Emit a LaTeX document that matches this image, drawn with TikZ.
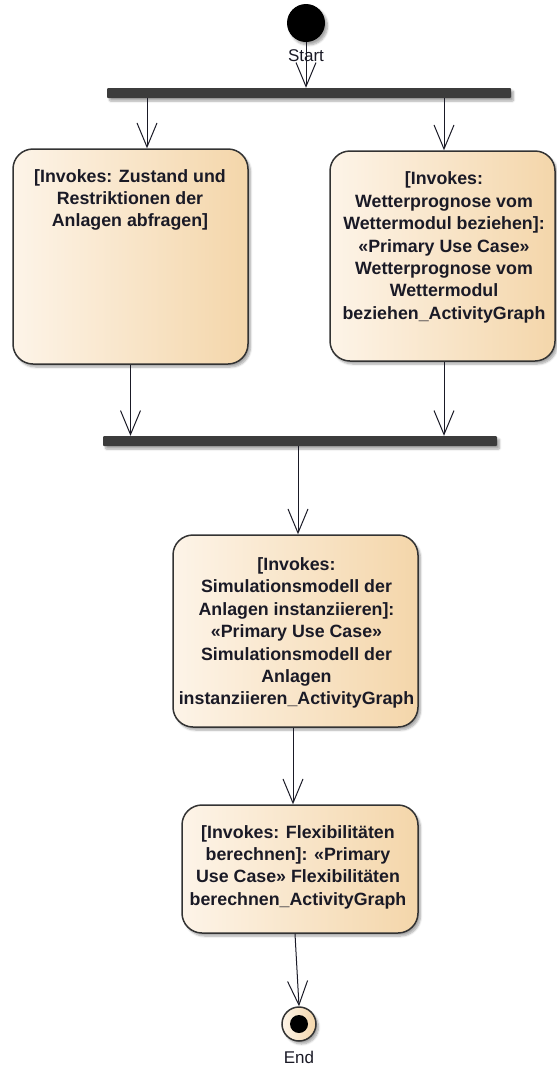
\documentclass[tikz,border=0pt]{standalone}
\usepackage{fontspec}
\setmainfont{Liberation Sans}
\usetikzlibrary{arrows.meta,shadows.blur,calc}
\definecolor{actleft}{HTML}{FDF4E8}
\definecolor{actright}{HTML}{F4D6AA}
\definecolor{edge}{HTML}{333333}
\definecolor{barcol}{HTML}{3C3C3C}
\definecolor{ink}{HTML}{1A1A26}
\tikzset{
  softshadow/.style={blur shadow={shadow xshift=2.5pt,shadow yshift=-3pt,shadow blur steps=6,shadow opacity=35}},
  activity/.style={draw=edge,line width=1.5pt,rounded corners=20pt,left color=actleft,right color=actright,softshadow,inner sep=0pt},
  acttext/.style={align=center,text=ink,inner sep=0pt,font=\bfseries\fontsize{17.8}{22.4}\selectfont},
  forkbar/.style={fill=barcol,draw=none,rounded corners=1pt,softshadow,inner sep=0pt,minimum height=10pt},
  flow/.style={draw=ink,line width=1pt,-{Straight Barb[length=24pt,width=20pt,line width=1pt]}},
  statelabel/.style={text=ink,font=\fontsize{17}{19}\selectfont,inner sep=0pt}
}
\begin{document}
\begin{tikzpicture}[x=1pt,y=-1pt]
\useasboundingbox (0,0) rectangle (557,1066);

% initial node
\node[circle,fill=black,minimum size=38pt,inner sep=0pt,softshadow] (start) at (306,23) {};
\node[statelabel] (startlbl) at (306,56) {Start};

% fork / join bars
\node[forkbar,minimum width=404pt] (bar1) at (309,93) {};
\node[forkbar,minimum width=394pt] (bar2) at (300,441) {};

% actions
\node[activity,minimum width=235pt,minimum height=215pt] (a) at (130.5,256.5) {};
\node[acttext] (atext) at (130,200) {[Invokes: Zustand und\\Restriktionen der\\Anlagen abfragen]};

\node[activity,minimum width=225pt,minimum height=210pt] (b) at (442.5,256) {};
\node[acttext] (btext) at (444,247.5) {[Invokes:\\Wetterprognose vom\\Wettermodul beziehen]:\\«Primary Use Case»\\Wetterprognose vom\\Wettermodul\\beziehen\_ActivityGraph};

\node[activity,minimum width=245pt,minimum height=192pt] (c) at (295.5,631) {};
\node[acttext] (ctext) at (296.5,633) {[Invokes:\\Simulationsmodell der\\Anlagen instanziieren]:\\«Primary Use Case»\\Simulationsmodell der\\Anlagen\\instanziieren\_ActivityGraph};

\node[activity,minimum width=236pt,minimum height=128pt] (d) at (300,869) {};
\node[acttext] (dtext) at (298,867) {[Invokes: Flexibilitäten\\berechnen]: «Primary\\Use Case» Flexibilitäten\\berechnen\_ActivityGraph};

% final node
\node[circle,draw=edge,line width=1.5pt,left color=actleft,right color=actright,minimum size=34pt,inner sep=0pt,softshadow] (end) at (299,1024) {};
\node[circle,fill=black,minimum size=18pt,inner sep=0pt] (enddot) at (end.center) {};
\node[statelabel] (endlbl) at (299,1057) {End};

% control flows
\draw[flow] (start.south) -- (start.south |- bar1.north);
\draw[flow] ([xshift=16.5pt]a.north |- bar1.south) -- ([xshift=16.5pt]a.north);
\draw[flow] ([xshift=1.5pt]b.north |- bar1.south) -- ([xshift=1.5pt]b.north);
\draw[flow] (a.south) -- (a.south |- bar2.north);
\draw[flow] ([xshift=1.5pt]b.south) -- ([xshift=1.5pt]b.south |- bar2.north);
\draw[flow] ([xshift=2.5pt]c.north |- bar2.south) -- ([xshift=2.5pt]c.north);
\draw[flow] ([xshift=-2.5pt]c.south) -- ([xshift=-2.5pt]c.south |- d.north);
\draw[flow] ([xshift=-5pt]d.south) -- (end.north);
\end{tikzpicture}
\end{document}
